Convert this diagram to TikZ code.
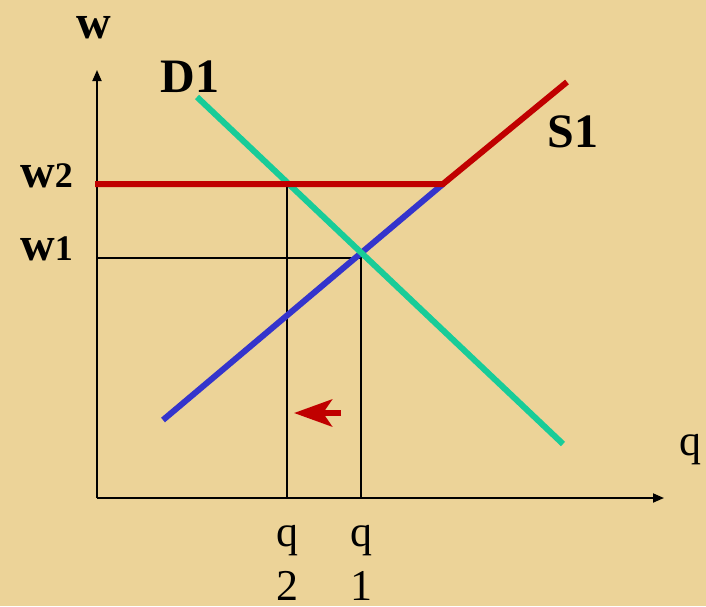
\documentclass[tikz,border=0pt]{standalone}
\usepackage{fontspec}
\setmainfont{Liberation Serif}
\usetikzlibrary{arrows.meta}
\definecolor{parch}{RGB}{236,211,152}
\definecolor{dteal}{RGB}{24,204,152}
\definecolor{sred}{RGB}{192,0,0}
\definecolor{sblue}{RGB}{52,52,204}
\tikzset{
  axis/.style={line width=1.8pt,-{Triangle[length=11pt,width=9pt]}},
  guide/.style={line width=1.4pt},
  curve/.style={line width=6pt},
  lbl/.style={inner sep=0pt,anchor=base},
  big/.style={font=\fontsize{48}{50}\selectfont\bfseries},
  qlab/.style={font=\fontsize{44}{46}\selectfont}
}
\begin{document}
\begin{tikzpicture}[x=1pt,y=-1pt]
\fill[parch] (0,0) rectangle (706,606);
\useasboundingbox (0,0) rectangle (706,606);
% axis points
\coordinate (O) at (97,498);
\coordinate (Ytop) at (97,70);
\coordinate (Xend) at (664,498);
% curve points
\coordinate (D1a) at (197,97);
\coordinate (D1b) at (563,444);
\coordinate (S1a) at (163,420);
\coordinate (K) at (443,184);
\coordinate (S1b) at (567,82);
\coordinate (W2) at (95,184);
\coordinate (W1) at (97,258);
\coordinate (E1) at (361,258);
\coordinate (Q1) at (361,498);
\coordinate (E2) at (287,184);
\coordinate (Q2) at (287,498);
\coordinate (Ra) at (341,413);
\coordinate (Rb) at (294,413);
% guides
\draw[guide] (W1) -- (E1) -- (Q1);
\draw[guide] (E2) -- (Q2);
% axes
\draw[axis] (O) -- (Ytop);
\draw[axis] (O) -- (Xend);
% curves
\draw[curve,sblue] (S1a) -- (K);
\draw[curve,dteal] (D1a) -- (D1b);
\draw[curve,sred,line join=miter] (W2) -- (K) -- (S1b);
% shift arrow
\draw[sred,line width=6pt,-{Stealth[length=38pt,width=27pt,inset=9pt]}] (Ra) -- (Rb);
% labels
\node[lbl,big] (lw) at (94,38) {w};
\node[lbl,big] (lD) at (190,92) {D1};
\node[lbl,big] (lS) at (573,147) {S1};
\node[lbl,big,anchor=base west] (lw2) at (20,187) {w\fontsize{36}{38}\selectfont 2};
\node[lbl,big,anchor=base west] (lw1) at (20,260) {w\fontsize{36}{38}\selectfont 1};
\node[lbl,qlab] (lq2) at (287,546) {q};
\node[lbl,qlab] (lq2n) at (287,600) {2};
\node[lbl,qlab] (lq1) at (361,546) {q};
\node[lbl,qlab] (lq1n) at (361,600) {1};
\node[lbl,qlab] (lq) at (690,455) {q};
\end{tikzpicture}
\end{document}
